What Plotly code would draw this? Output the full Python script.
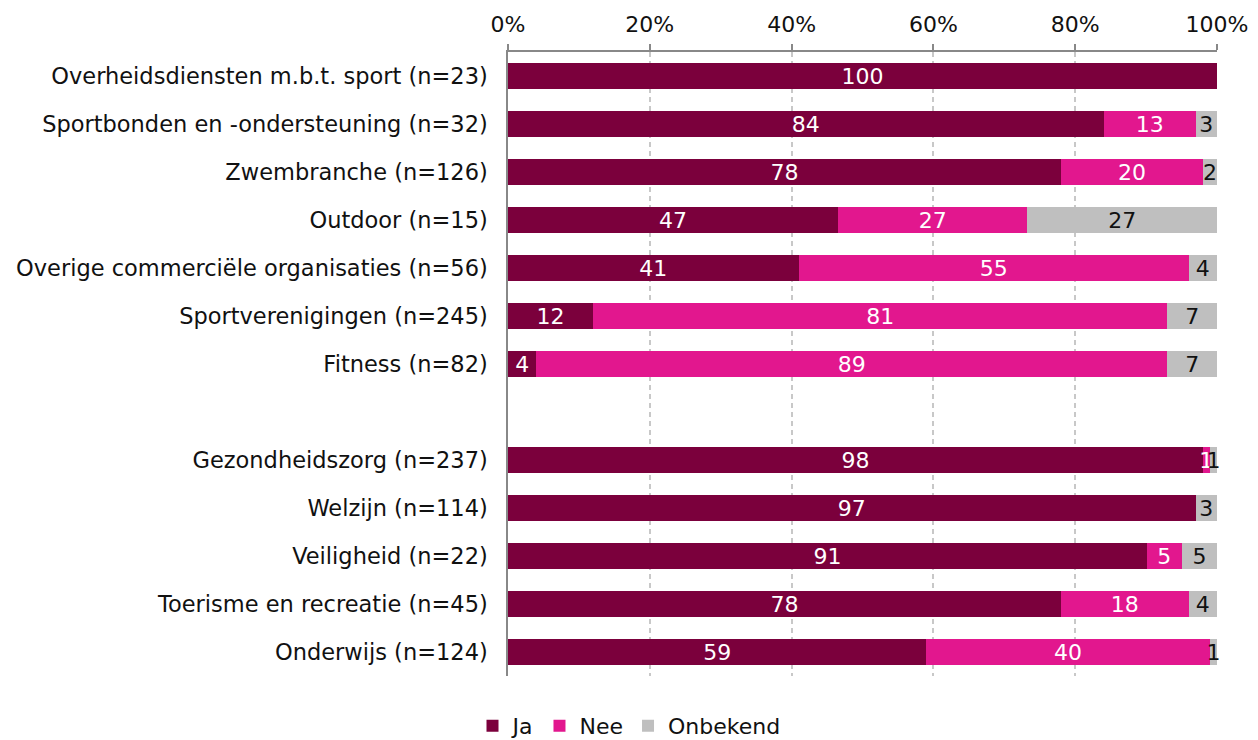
import plotly.graph_objects as go

categories = [
    "Overheidsdiensten m.b.t. sport (n=23)",
    "Sportbonden en -ondersteuning (n=32)",
    "Zwembranche (n=126)",
    "Outdoor (n=15)",
    "Overige commerciële organisaties (n=56)",
    "Sportverenigingen (n=245)",
    "Fitness (n=82)",
    " ",
    "Gezondheidszorg (n=237)",
    "Welzijn (n=114)",
    "Veiligheid (n=22)",
    "Toerisme en recreatie (n=45)",
    "Onderwijs (n=124)",
]
ja = [100, 84, 78, 47, 41, 12, 4, None, 98, 97, 91, 78, 59]
nee = [None, 13, 20, 27, 55, 81, 89, None, 1, None, 5, 18, 40]
onbekend = [None, 3, 2, 27, 4, 7, 7, None, 1, 3, 5, 4, 1]

series = [
    ("Ja", ja, "#7B003C", "white"),
    ("Nee", nee, "#E2178E", "white"),
    ("Onbekend", onbekend, "#BFBFBF", "#111111"),
]

FONT = "DejaVu Sans"
FS = 22
fig = go.Figure()
for name, vals, color, tcolor in series:
    fig.add_trace(go.Bar(
        name=name, y=categories, x=vals, orientation="h",
        marker=dict(color=color, line=dict(width=0)),
        text=[("" if v is None else str(v)) for v in vals],
        textposition="inside", insidetextanchor="middle", textangle=0,
        textfont=dict(color=tcolor, size=FS, family=FONT),
        cliponaxis=False,
    ))

# page body has an 8px margin; figure is offset by 8px in the window
fig.update_layout(
    barmode="stack", barnorm="percent", bargap=0.44,
    width=1242, height=732,
    margin=dict(l=500, r=33, t=44, b=64, autoexpand=False),
    plot_bgcolor="white", paper_bgcolor="white",
    font=dict(family=FONT, size=FS, color="#111111"),
    uniformtext=dict(minsize=FS, mode="show"),
    legend=dict(orientation="h", xref="container", yref="paper",
                x=0.5, xanchor="center", y=-0.08, yanchor="middle",
                font=dict(size=FS), itemwidth=30, traceorder="normal",
                tracegroupgap=0),
    showlegend=True,
)
fig.update_xaxes(
    side="top", range=[0, 100], tickvals=[0, 20, 40, 60, 80, 100],
    ticktext=["0%", "20%", "40%", "60%", "80%", "100%"],
    showgrid=True, gridcolor="#C8C8C8", griddash="5px,4px", gridwidth=1.5,
    showline=True, linecolor="#888888", linewidth=1.5,
    ticks="outside", ticklen=6, tickcolor="#888888", tickwidth=1.5,
    zeroline=False, tickfont=dict(size=FS), automargin=False,
    ticklabelstandoff=3,
)
fig.update_yaxes(
    categoryorder="array", categoryarray=categories, autorange="reversed",
    showline=True, linecolor="#888888", linewidth=1.5,
    ticks="", ticklabelstandoff=14, tickfont=dict(size=22.5), automargin=False,
)
fig.write_html("out.html")
